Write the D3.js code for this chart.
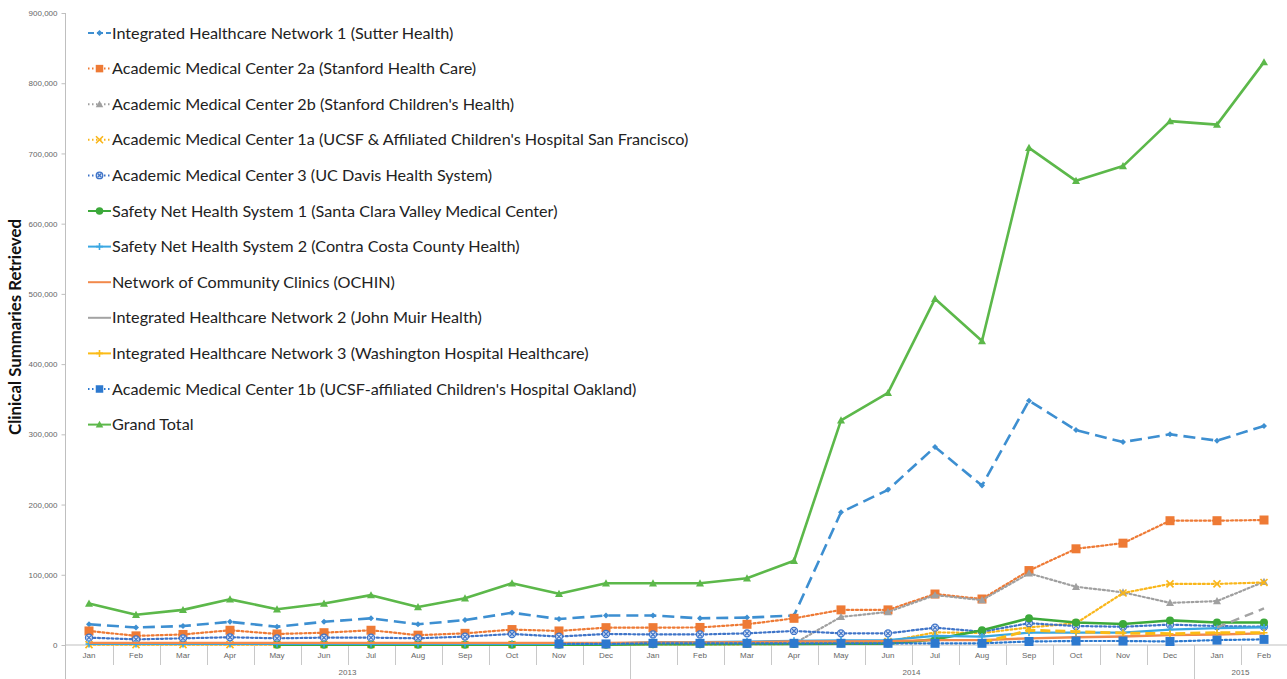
<!DOCTYPE html>
<html><head><meta charset="utf-8">
<script src="https://cdn.jsdelivr.net/npm/d3@7"></script>
<style>
html,body{margin:0;padding:0;background:#fff;}
svg{display:block;}
</style></head>
<body>
<svg id="chart" width="1287" height="679"></svg>
<script>
const months = ["Jan","Feb","Mar","Apr","May","Jun","Jul","Aug","Sep","Oct","Nov","Dec",
                "Jan","Feb","Mar","Apr","May","Jun","Jul","Aug","Sep","Oct","Nov","Dec",
                "Jan","Feb"];
const years = ["2013","2014","2015"];
const yearSpans = [12, 12, 2];
const yTicks = [0,100000,200000,300000,400000,500000,600000,700000,800000,900000];

const seriesNames = [
 "Integrated Healthcare Network 1 (Sutter Health)",
 "Academic Medical Center 2a (Stanford Health Care)",
 "Academic Medical Center 2b (Stanford Children's Health)",
 "Academic Medical Center 1a (UCSF & Affiliated Children's Hospital San Francisco)",
 "Academic Medical Center 3 (UC Davis Health System)",
 "Safety Net Health System 1 (Santa Clara Valley Medical Center)",
 "Safety Net Health System 2 (Contra Costa County Health)",
 "Network of Community Clinics (OCHIN)",
 "Integrated Healthcare Network 2 (John Muir Health)",
 "Integrated Healthcare Network 3 (Washington Hospital Healthcare)",
 "Academic Medical Center 1b (UCSF-affiliated Children's Hospital Oakland)",
 "Grand Total"
];
const N = null;
const sutter = [29500,25000,27000,33000,26000,33000,38000,29500,35500,46000,37000,42000,
                42000,38000,39000,42000,189000,221000,282000,227000,348000,306000,289000,300000,
                291000,312000];
const amc2a = [20000,13000,15000,21000,15700,17500,21000,14000,16600,22000,20000,24700,
               24700,25000,29500,38000,50000,50000,72600,65500,106000,137000,145000,177000,
               177000,178000];
const amc2b = [N,N,N,N,N,N,N,N,N,N,N,N,
               N,N,N,2000,40000,47000,71000,64000,102000,83000,75000,60000,
               62500,90000];
const amc1a = [500,500,500,500,500,500,500,500,500,500,500,500,
               1000,1000,1000,1500,3000,5000,18000,17000,25000,31000,74000,87000,
               87000,89000];
const amc3 = [10500,8000,9500,11000,9500,10500,10500,9500,12000,15700,12000,15700,
              15000,15000,16600,20000,16600,16600,24700,19000,31000,27000,26000,29000,
              27000,26000];
const snhs1 = [N,N,N,N,500,500,500,500,500,500,500,500,
               1000,1000,1500,1500,2000,2000,8000,21000,38000,32000,30000,35000,
               32000,32000];
const snhs2 = [1500,1500,1500,1500,1500,1500,1500,1500,1500,1500,1500,1500,
               4000,4000,5000,6000,6500,7000,13000,12000,17500,17500,17500,22000,
               24000,25000];
const ochin = [3000,3000,3000,3000,3000,3000,3000,3000,3000,3000,3000,3000,
               3500,3500,4000,5000,5000,5500,7000,7000,9500,11000,12000,14000,
               15000,16600];
const ihn2 = [N,N,N,N,N,N,N,N,N,N,N,N,
              N,N,N,N,N,N,N,N,N,N,N,N,
              25000,52000];
const ihn3 = [N,N,N,N,N,N,N,N,N,N,N,N,
              N,N,N,N,N,N,N,3000,21000,19000,17000,16000,
              17500,17500];
const amc1b = [N,N,N,N,N,N,N,N,N,N,1500,1500,
               2400,2400,2400,2400,2400,2400,2400,2400,5000,5700,5700,5000,
               7000,8000];
const grandTotal = [59000,43000,50000,65000,51000,59000,71000,54000,66500,88000,73000,88000,
                    88000,88000,95000,120000,320000,359000,493000,433000,708000,661000,682000,746000,
                    741000,830000];

const seriesValues = [sutter, amc2a, amc2b, amc1a, amc3, snhs1, snhs2, ochin, ihn2, ihn3, amc1b, grandTotal];

const styles = [
 {color:"#3d8fd1", width:2.6, dash:"12,6", legendDash:"6,3", marker:"diamond", ms:6},
 {color:"#ee7a35", width:2.2, dash:"2,2.5", marker:"square", ms:9},
 {color:"#a0a0a0", width:2.2, dash:"2,2.5", marker:"triangle", ms:8},
 {color:"#f9b61a", width:2.2, dash:"2,2.5", marker:"cross", ms:7},
 {color:"#3f74c8", width:2.2, dash:"2,2.5", marker:"circlex", ms:8},
 {color:"#3ca93a", width:2.6, dash:null, marker:"circle", ms:8},
 {color:"#3aa7e2", width:2.2, dash:null, marker:"plus", ms:7},
 {color:"#f2894b", width:2.4, dash:null, marker:null, ms:0},
 {color:"#a3a3a3", width:2.4, dash:"9,6", legendDash:null, marker:null, ms:0},
 {color:"#fbbb16", width:3, dash:"10,5", legendDash:null, marker:"plus", ms:7},
 {color:"#2d79cf", width:2.2, dash:"2,2.5", marker:"square", ms:9},
 {color:"#5cb84a", width:2.6, dash:null, marker:"triangle", ms:8}
];

const svg = d3.select("#chart");
const M = {left:65.5, right:1287.5, top:13, bottom:645};

const x = d3.scaleBand().domain(d3.range(months.length)).range([M.left, M.right]).paddingInner(0).paddingOuter(0);
const y = d3.scaleLinear().domain([0,900000]).range([M.bottom, M.top]);
const cx = i => x(i) + x.bandwidth()/2;

const yAxis = d3.axisLeft(y).tickValues(yTicks).tickSize(4).tickFormat(d3.format(","));
const gy = svg.append("g").attr("transform",`translate(${M.left},0)`).call(yAxis);
gy.select(".domain").remove();
gy.selectAll("line").attr("stroke","#bfbfbf");
gy.selectAll("text").attr("font-family","Liberation Sans, Arial, sans-serif").attr("font-size",8).attr("fill","#666").attr("x",-8);
svg.append("line").attr("x1",M.left).attr("x2",M.left).attr("y1",M.top).attr("y2",679).attr("stroke","#bfbfbf").attr("stroke-width",1);

svg.append("line").attr("x1",M.left).attr("x2",M.right).attr("y1",M.bottom).attr("y2",M.bottom).attr("stroke","#bfbfbf");
svg.append("g").selectAll("line").data(d3.range(1, months.length)).join("line")
  .attr("x1",i=>Math.round(x(i))+0.5).attr("x2",i=>Math.round(x(i))+0.5)
  .attr("y1",M.bottom).attr("y2",665).attr("stroke","#c8c8c8");
svg.append("g").selectAll("text").data(months).join("text")
  .attr("x",(d,i)=>cx(i)).attr("y",658).attr("text-anchor","middle")
  .attr("font-family","Liberation Sans, Arial, sans-serif").attr("font-size",8).attr("fill","#666").text(d=>d);
let acc = 0;
years.forEach((yr, k) => {
  const start = acc, end = acc + yearSpans[k];
  const x0 = x(start), x1 = end < months.length ? x(end) : M.right;
  if (end < months.length) {
    svg.append("line").attr("x1",Math.round(x1)+0.5).attr("x2",Math.round(x1)+0.5).attr("y1",M.bottom).attr("y2",679).attr("stroke","#c8c8c8");
  }
  svg.append("text").attr("x",(x0+x1)/2).attr("y",675).attr("text-anchor","middle")
    .attr("font-family","Liberation Sans, Arial, sans-serif").attr("font-size",8).attr("fill","#666").text(yr);
  acc = end;
});

svg.append("text").attr("transform","translate(21,327) rotate(-90)").attr("text-anchor","middle")
  .attr("font-family","Lato, 'Open Sans', sans-serif").attr("font-weight","bold").attr("font-size",16.8).attr("fill","#111")
  .text("Clinical Summaries Retrieved");

function drawMarker(g, type, px, py, s, color) {
  const h = s/2;
  if (type === "square") {
    g.append("rect").attr("x",px-h).attr("y",py-h).attr("width",s).attr("height",s).attr("fill",color);
  } else if (type === "triangle") {
    g.append("path").attr("d",`M${px},${py-h}L${px+h},${py+h*0.8}L${px-h},${py+h*0.8}Z`).attr("fill",color);
  } else if (type === "diamond") {
    g.append("path").attr("d",`M${px},${py-h}L${px+h},${py}L${px},${py+h}L${px-h},${py}Z`).attr("fill",color);
  } else if (type === "circle") {
    g.append("circle").attr("cx",px).attr("cy",py).attr("r",h).attr("fill",color);
  } else if (type === "circlex") {
    g.append("circle").attr("cx",px).attr("cy",py).attr("r",h-0.5).attr("fill","#d9e4f5").attr("stroke",color).attr("stroke-width",1.3);
    const d = h*0.5;
    g.append("path").attr("d",`M${px-d},${py-d}L${px+d},${py+d}M${px-d},${py+d}L${px+d},${py-d}`).attr("stroke",color).attr("stroke-width",1.2);
  } else if (type === "cross") {
    g.append("path").attr("d",`M${px-h},${py-h}L${px+h},${py+h}M${px-h},${py+h}L${px+h},${py-h}`).attr("stroke",color).attr("stroke-width",1.6).attr("fill","none");
  } else if (type === "plus") {
    g.append("path").attr("d",`M${px-h},${py}L${px+h},${py}M${px},${py-h}L${px},${py+h}`).attr("stroke",color).attr("stroke-width",1.6).attr("fill","none");
  }
}

const line = d3.line().defined(d => d.v !== null).x(d => cx(d.i)).y(d => y(d.v));
const plot = svg.append("g");
seriesValues.forEach((vals, k) => {
  const st = styles[k];
  const data = vals.map((v,i)=>({i, v}));
  const g = plot.append("g");
  g.append("path").datum(data).attr("d", line).attr("fill","none")
    .attr("stroke", st.color).attr("stroke-width", st.width)
    .attr("stroke-dasharray", st.dash).attr("stroke-linejoin","round")
    .attr("stroke-linecap", st.dash && st.dash.startsWith("2,") ? "round" : "butt");
  if (st.marker) {
    data.filter(d=>d.v!==null).forEach(d => drawMarker(g, st.marker, cx(d.i), y(d.v), st.ms, st.color));
  }
});

const legend = svg.append("g");
seriesNames.forEach((name, k) => {
  const st = styles[k];
  const ly = 33 + k*35.6;
  const g = legend.append("g");
  const ld = st.legendDash !== undefined ? st.legendDash : (st.dash ? "1.5,2.5" : null);
  g.append("line").attr("x1",88).attr("x2",111).attr("y1",ly).attr("y2",ly)
    .attr("stroke",st.color).attr("stroke-width",2).attr("stroke-dasharray",ld);
  if (st.marker) drawMarker(g, st.marker, 99.5, ly, Math.min(st.ms, 7.5), st.color);
  g.append("text").attr("x",112).attr("y",ly).attr("dy","0.35em")
    .attr("font-family","Lato, 'Open Sans', sans-serif").attr("font-size",16.2).attr("fill","#222").text(name);
});
</script>
</body></html>
